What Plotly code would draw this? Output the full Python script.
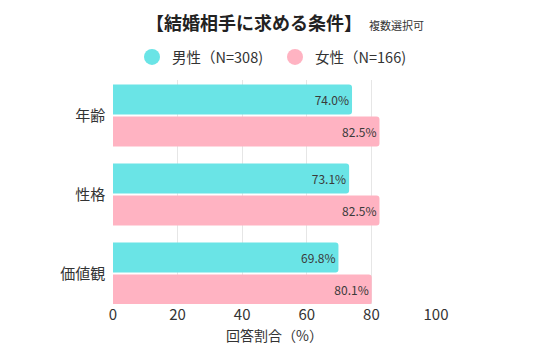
import plotly.graph_objects as go

categories = ["年齢", "性格", "価値観"]
male_values = [74.0, 73.1, 69.8]
female_values = [82.5, 82.5, 80.1]
male_name = "男性（N=308)"
female_name = "女性（N=166)"
x_ticks = [0, 20, 40, 60, 80, 100]

FONT = "Noto Sans CJK JP"
CYAN = "#6ae4e6"
PINK = "#ffb3c2"

fig = go.Figure()
fig.add_trace(go.Bar(
    y=categories, x=male_values, orientation="h", name=male_name,
    marker=dict(color=CYAN, line=dict(width=0)),
    text=[f"{v:.1f}%" for v in male_values], textposition="inside",
    insidetextanchor="end", textfont=dict(color="#3a3a3a", size=12, family=FONT),
    showlegend=False,
))
fig.add_trace(go.Bar(
    y=categories, x=female_values, orientation="h", name=female_name,
    marker=dict(color=PINK, line=dict(width=0)),
    text=[f"{v:.1f}%" for v in female_values], textposition="inside",
    insidetextanchor="end", textfont=dict(color="#3a3a3a", size=12, family=FONT),
    showlegend=False,
))
# legend entries with circle symbols
for nm, col in [(male_name, CYAN), (female_name, PINK)]:
    fig.add_trace(go.Scatter(x=[None], y=[None], mode="markers", name=nm,
                             marker=dict(color=col, size=16, symbol="circle")))

fig.update_layout(
    width=540, height=360,
    margin=dict(l=113, r=104, t=80, b=56, autoexpand=False),
    paper_bgcolor="white", plot_bgcolor="white",
    barmode="group", bargap=0.19, bargroupgap=0.06, barcornerradius=3,
    font=dict(family=FONT, color="#333333"),
    showlegend=True,
    legend=dict(orientation="h", xref="container", yref="container",
                x=132 / 540, y=1 - 57 / 360, xanchor="left", yanchor="middle",
                entrywidth=98, entrywidthmode="pixels",
                font=dict(size=14.5, color="#333333", family=FONT),
                bgcolor="rgba(0,0,0,0)", traceorder="normal"),
    xaxis=dict(range=[0, 100], tickvals=x_ticks, showgrid=True, gridcolor="#e6e6e6",
               gridwidth=1, zeroline=False, showline=False, ticks="", automargin=False,
               tickfont=dict(size=15, color="#333333"),
               title=dict(text="回答割合（%）", font=dict(size=14, color="#333333"), standoff=8)),
    yaxis=dict(range=[2.386, -0.449], showgrid=False, zeroline=False, showline=False,
               ticks="", ticksuffix="  ", automargin=False,
               tickfont=dict(size=15, color="#333333")),
    annotations=[
        dict(text="<b>【結婚相手に求める条件】</b>", xref="paper", yref="paper",
             x=(144 - 113) / 323, y=1 + (80 - 22) / 224, xanchor="left", yanchor="middle",
             showarrow=False, font=dict(size=18, color="#222222", family=FONT)),
        dict(text="複数選択可", xref="paper", yref="paper",
             x=(367 - 113) / 323, y=1 + (80 - 25) / 224, xanchor="left", yanchor="middle",
             showarrow=False, font=dict(size=11, color="#333333", family=FONT)),
    ],
)

fig.write_html("out.html", config={"displayModeBar": False},
               post_script="document.body.style.margin='0px';")
